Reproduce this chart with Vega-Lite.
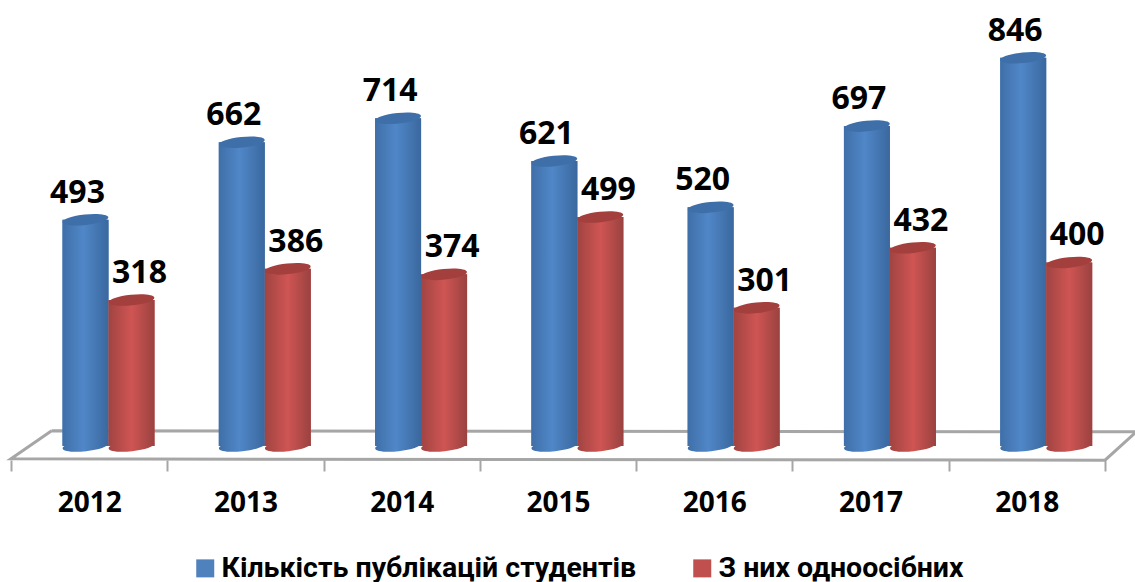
{
"$schema":"https://vega.github.io/schema/vega-lite/v6.json",
"width":1094,"height":450,
"autosize":{"type":"none"},
"padding":{"left":11,"top":10,"right":30,"bottom":122},
"background":"white",
"config":{"view":{"stroke":null},"font":"Open Sans"},
"datasets":{
"main":[
{"year":"2012","series":"Кількість публікацій студентів","value":493},
{"year":"2013","series":"Кількість публікацій студентів","value":662},
{"year":"2014","series":"Кількість публікацій студентів","value":714},
{"year":"2015","series":"Кількість публікацій студентів","value":621},
{"year":"2016","series":"Кількість публікацій студентів","value":520},
{"year":"2017","series":"Кількість публікацій студентів","value":697},
{"year":"2018","series":"Кількість публікацій студентів","value":846},
{"year":"2012","series":"З них одноосібних","value":318},
{"year":"2013","series":"З них одноосібних","value":386},
{"year":"2014","series":"З них одноосібних","value":374},
{"year":"2015","series":"З них одноосібних","value":499},
{"year":"2016","series":"З них одноосібних","value":301},
{"year":"2017","series":"З них одноосібних","value":432},
{"year":"2018","series":"З них одноосібних","value":400}
],
"floor":[
{"step":0,"pos":0.26,"level":33},
{"step":1,"pos":7.2,"level":31},
{"step":2,"pos":7,"level":-31},
{"step":3,"pos":0,"level":-28},
{"step":4,"pos":0.26,"level":33}
]},
"resolve":{"scale":{"x":"independent"}},
"layer":[
{"data":{"name":"floor"},
 "mark":{"type":"line","color":"#A6A6A6","strokeWidth":3,"clip":false},
 "encoding":{
  "x":{"field":"pos","type":"quantitative","axis":null,"scale":{"domain":[0,7],"nice":false,"zero":false}},
  "y":{"field":"level","type":"quantitative","axis":null,"scale":{"domain":[-30.5,950],"nice":false}},
  "order":{"field":"step"}}},
{"data":{"name":"main"},
 "encoding":{
  "x":{"field":"year","type":"nominal","title":null,
   "scale":{"type":"band","paddingInner":0,"paddingOuter":0},
   "axis":{"domain":false,"tickBand":"extent","tickSize":11,"tickWidth":2,"tickColor":"#A6A6A6","labelAngle":0,"labelFont":"Open Sans","labelFontWeight":"bold","labelFontSize":28,"labelColor":"#000","labelPadding":18,"labelBaseline":"top","labelDx":-3}},
  "xOffset":{"field":"series","type":"nominal","scale":{"domain":["Кількість публікацій студентів","З них одноосібних"],"range":[51.5,143.5]}},
  "y":{"field":"value","type":"quantitative","title":null,"axis":null,"scale":{"domain":[-30.5,950],"nice":false}}
 },
 "layer":[
 {"mark":{"type":"bar"},
  "encoding":{"color":{"field":"series","type":"nominal","title":null,
   "scale":{"domain":["Кількість публікацій студентів","З них одноосібних"],"range":["#4F81BD","#C0504D"]},
   "legend":{"orient":"none","legendX":180,"legendY":544,"columns":2,"columnPadding":51,"symbolType":"square","symbolSize":324,"symbolStrokeWidth":0,"symbolOpacity":1,"labelFont":"Roboto","labelFontWeight":"bold","labelFontSize":28.5,"labelColor":"#000","labelLimit":500,"labelOffset":2,"title":null}}}},
 {"transform":[{"filter":"datum.series=='Кількість публікацій студентів'"}],
  "layer":[
  {"mark":{"type":"point","filled":true,"opacity":1,"size":2116,"shape":"M-0.995,0.105A1,0.23,-6,1,1,0.995,-0.105A1,0.23,-6,1,1,-0.995,0.105Z","color":{"x1":0,"x2":1,"y1":0,"y2":0,"gradient":"linear","stops":[{"offset":0,"color":"#3F6FA8"},{"offset":0.45,"color":"#5087C8"},{"offset":1,"color":"#3A689E"}]}},
   "encoding":{"y":{"datum":0,"type":"quantitative"}}},
  {"mark":{"type":"bar","color":{"x1":0,"x2":1,"y1":0,"y2":0,"gradient":"linear","stops":[{"offset":0,"color":"#3F6FA8"},{"offset":0.45,"color":"#5087C8"},{"offset":1,"color":"#3A689E"}]}}},
  {"mark":{"type":"point","filled":true,"opacity":1,"size":2116,"color":"#3F6FA8","shape":"M-0.995,0.105A1,0.23,-6,1,1,0.995,-0.105A1,0.23,-6,1,1,-0.995,0.105Z"}},
  {"mark":{"type":"text","font":"Open Sans","fontWeight":"bold","fontSize":32,"color":"#000","baseline":"alphabetic","dx":-8,"dy":-17},"encoding":{"text":{"field":"value","type":"quantitative"}}}
  ]},
 {"transform":[{"filter":"datum.series=='З них одноосібних'"}],
  "layer":[
  {"mark":{"type":"point","filled":true,"opacity":1,"size":2116,"shape":"M-0.995,0.105A1,0.23,-6,1,1,0.995,-0.105A1,0.23,-6,1,1,-0.995,0.105Z","color":{"x1":0,"x2":1,"y1":0,"y2":0,"gradient":"linear","stops":[{"offset":0,"color":"#A04442"},{"offset":0.5,"color":"#CF5553"},{"offset":1,"color":"#9A4240"}]}},
   "encoding":{"y":{"datum":0,"type":"quantitative"}}},
  {"mark":{"type":"bar","color":{"x1":0,"x2":1,"y1":0,"y2":0,"gradient":"linear","stops":[{"offset":0,"color":"#A04442"},{"offset":0.5,"color":"#CF5553"},{"offset":1,"color":"#9A4240"}]}}},
  {"mark":{"type":"point","filled":true,"opacity":1,"size":2116,"color":"#A33F3D","shape":"M-0.995,0.105A1,0.23,-6,1,1,0.995,-0.105A1,0.23,-6,1,1,-0.995,0.105Z"}},
  {"mark":{"type":"text","font":"Open Sans","fontWeight":"bold","fontSize":32,"color":"#000","baseline":"alphabetic","dx":8,"dy":-17},"encoding":{"text":{"field":"value","type":"quantitative"}}}
  ]}
 ]}
]
}
